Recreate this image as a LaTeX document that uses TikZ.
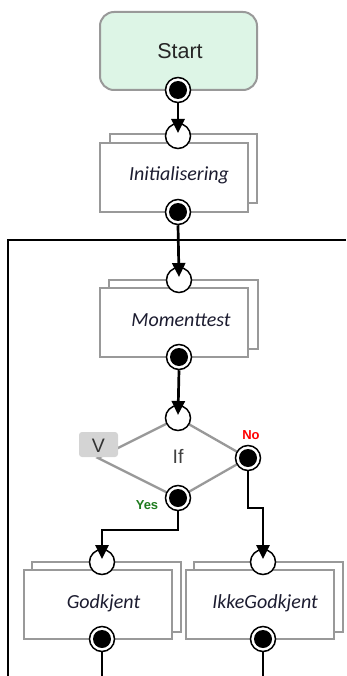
\documentclass[tikz,border=0pt]{standalone}
\usepackage{fontspec}
\setmainfont{Liberation Sans}
\newfontfamily\labfont{Carlito}
\usetikzlibrary{arrows.meta}
\definecolor{startfill}{HTML}{DDF5E6}
\definecolor{boxgray}{HTML}{999999}
\definecolor{labcol}{HTML}{1C1C30}
\definecolor{vfill}{HTML}{D4D4D4}
\definecolor{nored}{HTML}{FF0000}
\definecolor{yesgreen}{HTML}{1E7B1E}
\tikzset{
  startbox/.style={draw=boxgray, line width=2pt, fill=startfill, rounded corners=14pt, minimum width=157pt, minimum height=78pt, inner sep=0pt},
  starttext/.style={font=\fontsize{21.5}{24}\selectfont, text=black!85, inner sep=0pt, anchor=base},
  actbox/.style={draw=boxgray, line width=2pt, fill=white, minimum width=148pt, minimum height=69pt, inner sep=0pt},
  acttext/.style={font=\labfont\itshape\fontsize{20}{24}\selectfont, text=labcol, inner sep=0pt, anchor=base},
  actback/.style={draw=boxgray, line width=2pt, fill=white},
  outport/.style={circle, draw=black, line width=1.5pt, fill=white, minimum size=25pt, inner sep=0pt, path picture={\fill[black] (path picture bounding box.center) circle (9pt);}},
  inport/.style={circle, draw=black, line width=1.5pt, fill=white, minimum size=25pt, inner sep=0pt},
  conn/.style={line width=2.7pt, black, -{Triangle[length=14pt,width=13pt]}},
  plainconn/.style={line width=2.7pt, black},
  diaedge/.style={draw=boxgray, line width=2.3pt},
  frame/.style={line width=2.7pt, black}
}
\begin{document}
\begin{tikzpicture}[x=1pt,y=-1pt]
\useasboundingbox (0,0) rectangle (346,676);
% frame
\draw[frame] (346,240) -- (8,240) -- (8,676);
% Start
\node[startbox] (start) at (178.5,51) {};
\node[starttext] (startlab) at (180,59) {Start};
\node[outport] (startout) at (178,90) {};
% Initialisering
\draw[actback] (110,134) rectangle (257,203);
\node[actbox] (init) at (173.5,177.5) {};
\node[acttext] (initlab) at (179,181) {Initialisering};
\node[inport] (initin) at (178,136) {};
\node[outport] (initout) at (178,212) {};
% Momenttest
\draw[actback] (109,280) rectangle (258,349);
\node[actbox] (mom) at (174,322.5) {};
\node[acttext] (momlab) at (181,326) {Momenttest};
\node[inport] (momin) at (179,280) {};
\node[outport] (momout) at (179,357) {};
% If diamond
\coordinate (dtop) at (178,418);
\coordinate (dright) at (248,458);
\coordinate (dbottom) at (178,498);
\coordinate (dleft) at (98,458);
\draw[diaedge] (dtop) -- (dright) -- (dbottom) -- (dleft) -- cycle;
\node[font=\fontsize{19.5}{22}\selectfont, text=black!75, inner sep=0pt, anchor=base] (iflab) at (178,463.5) {If};
\node[draw=none, fill=vfill, rounded corners=3pt, minimum width=39pt, minimum height=25pt, inner sep=0pt] (vbox) at (98.5,444.5) {};
\node[font=\fontsize{19.5}{22}\selectfont, text=black!80, inner sep=0pt, anchor=base] (vlab) at (98.5,452.5) {V};
\node[inport] (ifin) at (dtop) {};
\node[outport] (ifno) at (dright) {};
\node[outport] (ifyes) at (dbottom) {};
\node[font=\bfseries\fontsize{13}{15}\selectfont, text=nored, inner sep=0pt] (nolab) at (251,435) {No};
\node[font=\bfseries\fontsize{13}{15}\selectfont, text=yesgreen, inner sep=0pt] (yeslab) at (147,505) {Yes};
% Godkjent
\draw[actback] (32,562) rectangle (181,632);
\node[actbox] (god) at (97.5,604.5) {};
\node[acttext] (godlab) at (103.5,608) {Godkjent};
\node[inport] (godin) at (102,562) {};
\node[outport] (godout) at (102,639) {};
% IkkeGodkjent
\draw[actback] (194,562) rectangle (343,632);
\node[actbox] (ikke) at (259.5,604.5) {};
\node[acttext] (ikkelab) at (265,608) {IkkeGodkjent};
\node[inport] (ikkein) at (263,562) {};
\node[outport] (ikkeout) at (263,639) {};
% connectors
\draw[conn] (startout.south) -- ([yshift=3pt]initin.center);
\draw[conn] (initout.south) -- ([yshift=3pt]momin.center);
\draw[conn] (momout.south) -- ([yshift=3pt]ifin.center);
\draw[conn] (ifyes.south) -- (178,530) -- (102,530) -- ([yshift=3pt]godin.center);
\draw[conn] (ifno.south) -- (248,508) -- (263,508) -- ([yshift=3pt]ikkein.center);
\coordinate (godend) at (102,676);
\coordinate (ikkeend) at (263,676);
\draw[plainconn] (godout.south) -- (godend);
\draw[plainconn] (ikkeout.south) -- (ikkeend);
\end{tikzpicture}
\end{document}
